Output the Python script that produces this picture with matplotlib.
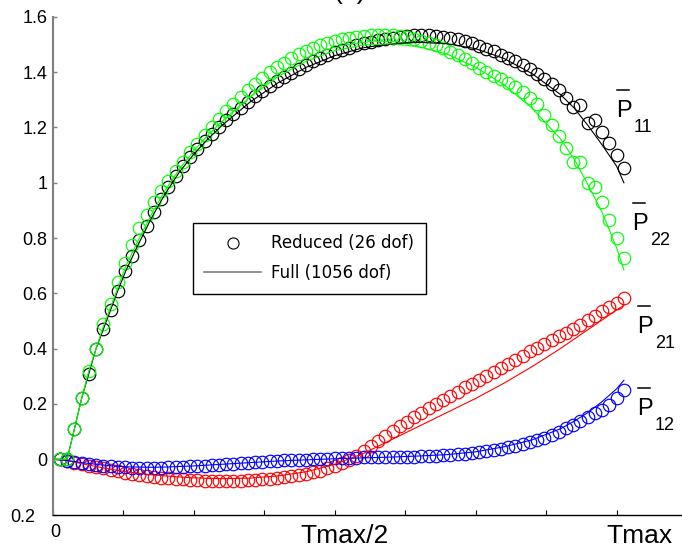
import matplotlib
matplotlib.use("Agg")
import matplotlib.pyplot as plt
from matplotlib.lines import Line2D
from matplotlib.transforms import blended_transform_factory

plt.rcParams['font.family'] = ['Liberation Sans', 'DejaVu Sans']

W, H = 682, 554  # figure size in pixels

#------------------------------------------------------------------
# data (time in units of Tmax)
t_reduced = [0.0128, 0.0256, 0.0385, 0.0513, 0.0641, 0.0769, 0.0897, 0.1026, 0.1154, 0.1282,
             0.1410, 0.1538, 0.1667, 0.1795, 0.1923, 0.2051, 0.2179, 0.2308, 0.2436, 0.2564,
             0.2692, 0.2821, 0.2949, 0.3077, 0.3205, 0.3333, 0.3462, 0.3590, 0.3718, 0.3846,
             0.3974, 0.4103, 0.4231, 0.4359, 0.4487, 0.4615, 0.4744, 0.4872, 0.5000, 0.5128,
             0.5256, 0.5385, 0.5513, 0.5641, 0.5769, 0.5897, 0.6026, 0.6154, 0.6282, 0.6410,
             0.6538, 0.6667, 0.6795, 0.6923, 0.7051, 0.7179, 0.7308, 0.7436, 0.7564, 0.7692,
             0.7821, 0.7949, 0.8077, 0.8205, 0.8333, 0.8462, 0.8590, 0.8718, 0.8846, 0.8974,
             0.9103, 0.9231, 0.9359, 0.9487, 0.9615, 0.9744, 0.9872, 1.0000, 1.0128]

p11_reduced = [0.00, 0.00, 0.11, 0.22, 0.31, 0.40, 0.47, 0.54, 0.61, 0.68,
               0.737, 0.792, 0.845, 0.895, 0.942, 0.985, 1.025, 1.061, 1.094, 1.124,
               1.152, 1.178, 1.203, 1.227, 1.250, 1.272, 1.293, 1.313, 1.332, 1.350,
               1.367, 1.383, 1.398, 1.412, 1.426, 1.439, 1.451, 1.462, 1.472, 1.481,
               1.489, 1.497, 1.504, 1.510, 1.516, 1.521, 1.525, 1.529, 1.532, 1.534,
               1.535, 1.534, 1.532, 1.529, 1.525, 1.519, 1.512, 1.504, 1.495, 1.485,
               1.475, 1.464, 1.452, 1.439, 1.425, 1.410, 1.394, 1.377, 1.357, 1.334,
               1.308, 1.273, 1.281, 1.215, 1.227, 1.185, 1.143, 1.100, 1.053]

p22_reduced = [0.00, 0.00, 0.11, 0.22, 0.32, 0.40, 0.49, 0.56, 0.64, 0.71,
               0.775, 0.835, 0.885, 0.930, 0.970, 1.008, 1.043, 1.077, 1.110, 1.142,
               1.173, 1.203, 1.232, 1.259, 1.285, 1.310, 1.334, 1.357, 1.379, 1.399,
               1.418, 1.435, 1.451, 1.465, 1.478, 1.489, 1.499, 1.507, 1.514, 1.520,
               1.525, 1.529, 1.532, 1.534, 1.535, 1.535, 1.534, 1.530, 1.526, 1.521,
               1.514, 1.506, 1.497, 1.486, 1.474, 1.461, 1.447, 1.432, 1.416, 1.400,
               1.387, 1.374, 1.360, 1.345, 1.328, 1.308, 1.285, 1.245, 1.210, 1.170,
               1.125, 1.076, 1.076, 0.998, 0.986, 0.932, 0.865, 0.800, 0.727]

p21_reduced = [0.000, -0.005, -0.012, -0.018, -0.023, -0.028, -0.033, -0.038, -0.043, -0.048,
               -0.052, -0.056, -0.060, -0.063, -0.066, -0.069, -0.071, -0.073, -0.075, -0.076,
               -0.077, -0.078, -0.078, -0.078, -0.078, -0.077, -0.076, -0.075, -0.073, -0.071,
               -0.068, -0.065, -0.061, -0.057, -0.052, -0.047, -0.041, -0.033, -0.024, -0.014,
               -0.003, 0.012, 0.030, 0.048, 0.066, 0.084, 0.103, 0.120, 0.136, 0.153,
               0.169, 0.185, 0.200, 0.215, 0.230, 0.245, 0.260, 0.274, 0.288, 0.302,
               0.316, 0.330, 0.345, 0.360, 0.375, 0.390, 0.404, 0.418, 0.432, 0.445,
               0.458, 0.472, 0.487, 0.503, 0.519, 0.535, 0.550, 0.566, 0.582]

p12_reduced = [0.000, -0.005, -0.010, -0.014, -0.018, -0.021, -0.024, -0.026, -0.028, -0.029,
               -0.030, -0.031, -0.031, -0.031, -0.030, -0.029, -0.028, -0.027, -0.026, -0.024,
               -0.023, -0.021, -0.020, -0.018, -0.016, -0.014, -0.012, -0.010, -0.009, -0.007,
               -0.006, -0.004, -0.003, -0.002, -0.001, 0.000, 0.001, 0.002, 0.003, 0.004,
               0.005, 0.006, 0.007, 0.007, 0.008, 0.008, 0.009, 0.009, 0.010, 0.010,
               0.011, 0.012, 0.013, 0.014, 0.016, 0.018, 0.020, 0.022, 0.025, 0.029,
               0.033, 0.038, 0.043, 0.049, 0.055, 0.062, 0.070, 0.078, 0.088, 0.100,
               0.112, 0.125, 0.138, 0.152, 0.166, 0.180, 0.197, 0.220, 0.252]

t_full = [0.0, 0.0256, 0.0385, 0.0513, 0.0641, 0.0769, 0.0897, 0.1026, 0.1154, 0.13,
          0.15, 0.175, 0.2, 0.225, 0.25, 0.275, 0.3, 0.35, 0.4, 0.45,
          0.5, 0.55, 0.6, 0.65, 0.7, 0.75, 0.8, 0.85, 0.9, 0.925,
          0.95, 0.975, 1.0, 1.013]

p11_full = [0, 0, 0.11, 0.22, 0.31, 0.40, 0.47, 0.54, 0.61, 0.683,
            0.77, 0.872, 0.962, 1.04, 1.103, 1.158, 1.207, 1.292, 1.362, 1.418,
            1.46, 1.488, 1.503, 1.508, 1.503, 1.485, 1.45, 1.395, 1.32, 1.27,
            1.205, 1.135, 1.06, 1.0]

p22_full = [0, 0, 0.11, 0.22, 0.32, 0.40, 0.48, 0.55, 0.62, 0.70,
            0.785, 0.885, 0.975, 1.05, 1.115, 1.172, 1.222, 1.31, 1.385, 1.44,
            1.478, 1.498, 1.503, 1.492, 1.465, 1.418, 1.355, 1.27, 1.16, 1.085,
            0.99, 0.89, 0.765, 0.685]

p21_full = [0, -0.005, -0.01, -0.016, -0.021, -0.026, -0.031, -0.036, -0.04, -0.045,
            -0.05, -0.056, -0.06, -0.064, -0.067, -0.069, -0.07, -0.068, -0.06, -0.045,
            -0.018, 0.02, 0.07, 0.12, 0.17, 0.22, 0.275, 0.335, 0.40, 0.435,
            0.47, 0.505, 0.54, 0.557]

p12_full = [0, -0.004, -0.008, -0.012, -0.015, -0.018, -0.021, -0.023, -0.025, -0.027,
            -0.028, -0.029, -0.028, -0.026, -0.024, -0.021, -0.018, -0.012, -0.006, -0.002,
            0.002, 0.005, 0.008, 0.012, 0.017, 0.027, 0.045, 0.07, 0.11, 0.138,
            0.17, 0.21, 0.255, 0.286]

x_ticks = [0, 0.125, 0.25, 0.375, 0.5, 0.625, 0.75, 0.875, 1.0]
y_ticks = [-0.2, 0, 0.2, 0.4, 0.6, 0.8, 1.0, 1.2, 1.4, 1.6]
y_tick_labels = ['', '0', '0.2', '0.4', '0.6', '0.8', '1', '1.2', '1.4', '1.6']
legend_labels = ['Reduced (26 dof)', 'Full (1056 dof)']


def fx(px):
    return px / W


def fy(py):
    return 1 - py / H


#------------------------------------------------------------------
fig = plt.figure(figsize=(W / 100, H / 100), dpi=100)
ax = fig.add_axes([fx(52.7), fy(514.6), 1 - fx(52.7), fy(16.9) - fy(514.6)])

# circles = reduced model, lines = full model
mk = dict(ls='none', marker='o', mfc='none', ms=9, mew=0.85)
ax.plot(t_reduced, p21_reduced, mec='red', **mk)
ax.plot(t_reduced, p12_reduced, mec='blue', **mk)
ax.plot(t_reduced, p11_reduced, mec='black', **mk)
ax.plot(t_reduced, p22_reduced, mec='lime', **mk)

ax.plot(t_full, p21_full, color='red', lw=0.8)
ax.plot(t_full, p12_full, color='blue', lw=0.8)
ax.plot(t_full, p11_full, color='black', lw=0.8)
ax.plot(t_full, p22_full, color='lime', lw=0.8)

ax.set_xlim(0, 629.3 / 563.9)
ax.set_ylim(-0.2, 1.6)

for s in ['top', 'right']:
    ax.spines[s].set_visible(False)
ax.spines['left'].set_color('#808080')
ax.spines['left'].set_linewidth(1.5)
ax.spines['bottom'].set_color('black')
ax.spines['bottom'].set_linewidth(1.0)

ax.set_xticks(x_ticks)
ax.set_xticklabels([])
ax.set_yticks(y_ticks)
ax.set_yticklabels(y_tick_labels, fontsize=13)
ax.tick_params(axis='x', direction='in', length=3.6, width=0.8, color='black')
ax.tick_params(axis='y', direction='in', length=3.2, width=1.0, color='#808080', pad=3.6)

# x labels placed by hand like in the original
trans = blended_transform_factory(ax.transData, fig.transFigure)
ax.text(0.005, fy(537), '0', transform=trans, ha='center', va='baseline', fontsize=13)
ax.text(0.518, fy(543), 'Tmax/2', transform=trans, ha='center', va='baseline', fontsize=19)
ax.text(1.041, fy(543), 'Tmax', transform=trans, ha='center', va='baseline', fontsize=19)
fig.text(fx(35), fy(517), '0.2', ha='right', va='center', fontsize=13)

# title, mostly cut off at the top as in the original
fig.text(fx(350), fy(-1), '(a)', ha='center', va='baseline', fontsize=19)

# curve names: P with a bar and a subscript
for name, xp, yp in [('11', 616, 117), ('22', 632, 230), ('21', 637, 333), ('12', 637, 415)]:
    fig.text(fx(xp), fy(yp), 'P', ha='left', va='baseline', fontsize=17)
    fig.add_artist(Line2D([fx(xp + 1), fx(xp + 13)], [fy(yp - 27), fy(yp - 27)],
                          transform=fig.transFigure, color='black', lw=1.1))
    fig.text(fx(xp + 18), fy(yp + 15), name, ha='left', va='baseline', fontsize=13)

# legend
handles = [Line2D([], [], ls='none', marker='o', mfc='none', mec='black', ms=8, mew=0.8),
           Line2D([], [], color='#7f7f7f', lw=1.2)]
leg = ax.legend(handles, legend_labels, loc='upper left',
                bbox_to_anchor=(fx(192.7), fy(222.7)), bbox_transform=fig.transFigure,
                fancybox=False, edgecolor='black', framealpha=1, borderpad=0.7,
                handlelength=3.4, handletextpad=0.6, labelspacing=0.7, borderaxespad=0,
                prop={'family': 'DejaVu Sans', 'size': 12})
leg.get_frame().set_linewidth(1.0)

fig.savefig('out.png', dpi=100)
